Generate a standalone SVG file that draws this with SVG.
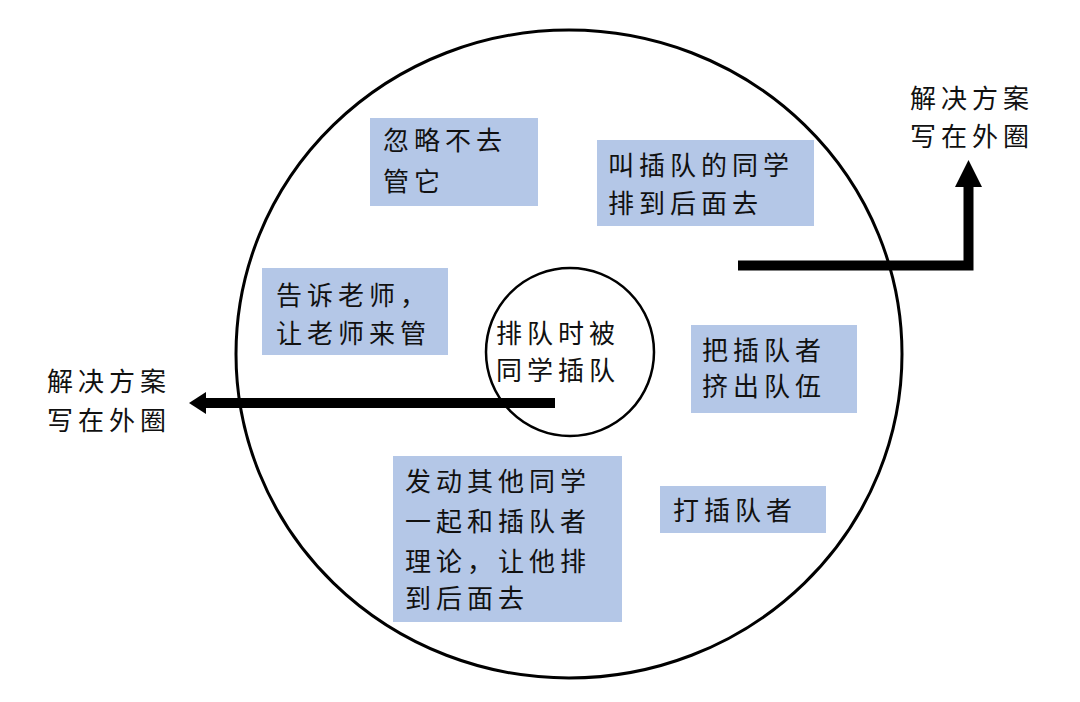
<svg xmlns="http://www.w3.org/2000/svg" width="1080" height="702" viewBox="0 0 1080 702">
<style>
.box{fill:#B4C7E7;}
.t{font-family:"Noto Sans CJK SC","Liberation Serif",serif;font-size:26px;letter-spacing:5px;fill:#111;}
.ring{fill:none;stroke:#000;}
.arrow{fill:none;stroke:#000;stroke-width:10;}
</style>
<defs>
<marker id="headL" viewBox="0 0 16 22" refX="2" refY="11" markerWidth="16" markerHeight="22" markerUnits="userSpaceOnUse" orient="auto">
<path d="M0,11 L16,0 L16,22 Z" fill="#000"/>
</marker>
</defs>
<rect width="1080" height="702" fill="#fff"/>
<g id="outer-circle">
<ellipse class="ring" cx="569" cy="354" rx="333" ry="324" stroke-width="3"/>
</g>
<g id="connectors">
<path class="arrow" d="M555,403 H204"/>
<path d="M189,403 L206,392 L206,414 Z" fill="#000"/>
<path class="arrow" d="M738,265.5 H968.5 V186"/>
<path d="M968.5,160 L955,187 L982,187 Z" fill="#000"/>
</g>
<g id="center">
<circle class="ring" cx="570" cy="352" r="84" stroke-width="2.5"/>
<text class="t"><tspan x="496" y="343">排队时被</tspan><tspan x="496" y="380">同学插队</tspan></text>
</g>
<g id="box-ignore">
<rect class="box" x="370" y="118" width="168" height="88"/>
<text class="t"><tspan x="383" y="150">忽略不去</tspan><tspan x="383" y="191">管它</tspan></text>
</g>
<g id="box-back">
<rect class="box" x="597" y="140" width="217" height="86"/>
<text class="t"><tspan x="608" y="175">叫插队的同学</tspan><tspan x="608" y="213">排到后面去</tspan></text>
</g>
<g id="box-teacher">
<rect class="box" x="262" y="268" width="186" height="87"/>
<text class="t"><tspan x="276" y="305">告诉老师，</tspan><tspan x="276" y="343">让老师来管</tspan></text>
</g>
<g id="box-push">
<rect class="box" x="691" y="325" width="166" height="88"/>
<text class="t"><tspan x="702" y="360">把插队者</tspan><tspan x="702" y="396">挤出队伍</tspan></text>
</g>
<g id="box-hit">
<rect class="box" x="660" y="486" width="166" height="47"/>
<text class="t"><tspan x="673" y="520">打插队者</tspan></text>
</g>
<g id="box-argue">
<rect class="box" x="393" y="456" width="229" height="166"/>
<text class="t"><tspan x="405" y="491">发动其他同学</tspan><tspan x="405" y="531">一起和插队者</tspan><tspan x="405" y="571">理论，让他排</tspan><tspan x="405" y="608">到后面去</tspan></text>
</g>
<g id="label-left">
<text class="t"><tspan x="47" y="391">解决方案</tspan><tspan x="47" y="430">写在外圈</tspan></text>
</g>
<g id="label-right">
<text class="t"><tspan x="910" y="108">解决方案</tspan><tspan x="910" y="146">写在外圈</tspan></text>
</g>
</svg>
